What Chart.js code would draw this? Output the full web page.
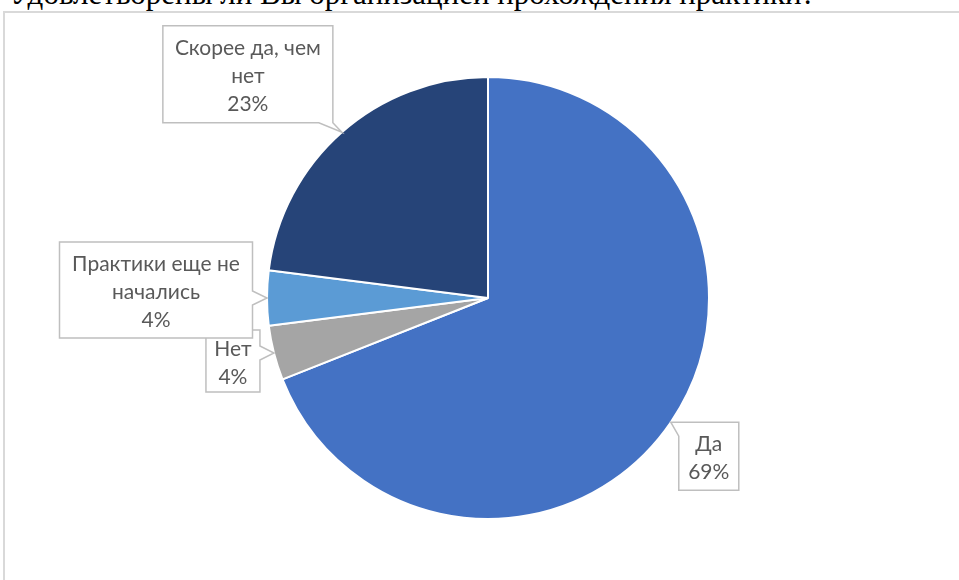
<!DOCTYPE html>
<html>
<head>
<meta charset="utf-8">
<script src="https://cdn.jsdelivr.net/npm/chart.js@4"></script>
<style>
  body { margin: 0; background: #fff; }
  #page { position: relative; width: 959px; height: 580px; overflow: hidden; }
  #question {
    position: absolute; left: 10px; top: -22px;
    font: 31px "Liberation Serif", "Times New Roman", serif;
    line-height: 1; white-space: nowrap; color: #000;
  }
  #frame {
    position: absolute; left: 3px; top: 11px;
    width: 1000px; height: 1000px; border: 2px solid #d9d9d9;
  }
  #pie-chart { position: absolute; left: 0; top: 0; }
</style>
</head>
<body>
<div id="page">
  <div id="question">Удовлетворены ли Вы организацией прохождения практики?</div>
  <div id="frame"></div>
  <canvas id="pie-chart" width="959" height="580"></canvas>
</div>
<script>
const labels = ["Да", "Нет", "Практики еще не начались", "Скорее да, чем нет"];
const values = [69, 4, 4, 23];
const colors = ["#4472C4", "#A5A5A5", "#5B9BD5", "#264478"];

// callout text wrapped the way it is in the picture
const labelLines = [["Да"], ["Нет"], ["Практики еще не", "начались"], ["Скорее да, чем", "нет"]];
// callout box: centre offset from the slice edge point, and box size
const calloutBoxes = [
  { dx: 38, dy: 34, w: 60, h: 68 },
  { dx: -41, dy: 8, w: 54, h: 62 },
  { dx: -111, dy: -8, w: 193, h: 96 },
  { dx: -94, dy: -58, w: 170, h: 97 },
];

function calloutPath(ctx, x, y, w, h, tx, ty) {
  const b = 7;
  const dx = tx - (x + w / 2), dy = ty - (y + h / 2);
  let side;
  if (Math.abs(dx) / w > Math.abs(dy) / h) side = dx > 0 ? "right" : "left";
  else side = dy > 0 ? "bottom" : "top";
  const cx = Math.min(Math.max(tx, x + b), x + w - b);
  const cy = Math.min(Math.max(ty, y + b), y + h - b);
  ctx.beginPath();
  ctx.moveTo(x, y);
  if (side === "top") { ctx.lineTo(cx - b, y); ctx.lineTo(tx, ty); ctx.lineTo(cx + b, y); }
  ctx.lineTo(x + w, y);
  if (side === "right") { ctx.lineTo(x + w, cy - b); ctx.lineTo(tx, ty); ctx.lineTo(x + w, cy + b); }
  ctx.lineTo(x + w, y + h);
  if (side === "bottom") { ctx.lineTo(cx + b, y + h); ctx.lineTo(tx, ty); ctx.lineTo(cx - b, y + h); }
  ctx.lineTo(x, y + h);
  if (side === "left") { ctx.lineTo(x, cy + b); ctx.lineTo(tx, ty); ctx.lineTo(x, cy - b); }
  ctx.closePath();
}

const calloutLabels = {
  id: "calloutLabels",
  afterDatasetsDraw(chart) {
    const ctx = chart.ctx;
    const meta = chart.getDatasetMeta(0);
    const total = values.reduce((a, b) => a + b, 0);
    ctx.save();
    meta.data.forEach((arc, i) => {
      const p = arc.getProps(["x", "y", "startAngle", "endAngle", "outerRadius"], true);
      const mid = (p.startAngle + p.endAngle) / 2;
      const tx = p.x + Math.cos(mid) * p.outerRadius;
      const ty = p.y + Math.sin(mid) * p.outerRadius;
      const box = calloutBoxes[i];
      const bx = tx + box.dx - box.w / 2;
      const by = ty + box.dy - box.h / 2;

      calloutPath(ctx, bx, by, box.w, box.h, tx, ty);
      ctx.fillStyle = "#ffffff";
      ctx.fill();
      ctx.lineWidth = 1.5;
      ctx.strokeStyle = "#BFBFBF";
      ctx.stroke();

      const lines = labelLines[i].concat([Math.round(values[i] / total * 100) + "%"]);
      const lh = 28;
      ctx.fillStyle = "#595959";
      ctx.font = '21px Lato, "Noto Sans", sans-serif';
      ctx.textAlign = "center";
      ctx.textBaseline = "middle";
      const top = by + box.h / 2 + 2 - (lines.length - 1) * lh / 2;
      lines.forEach((t, k) => ctx.fillText(t, bx + box.w / 2, top + k * lh));
    });
    ctx.restore();
  },
};

new Chart(document.getElementById("pie-chart"), {
  type: "pie",
  data: {
    labels,
    datasets: [
      {
        data: values,
        backgroundColor: colors,
        borderColor: "#ffffff",
        borderWidth: 2,
      },
    ],
  },
  options: {
    responsive: false,
    animation: false,
    layout: {
      padding: { top: 76, bottom: 60, left: 17, right: 0 },
    },
    plugins: {
      legend: { display: false },
      tooltip: { enabled: false },
    },
  },
  plugins: [calloutLabels],
});
</script>
</body>
</html>
